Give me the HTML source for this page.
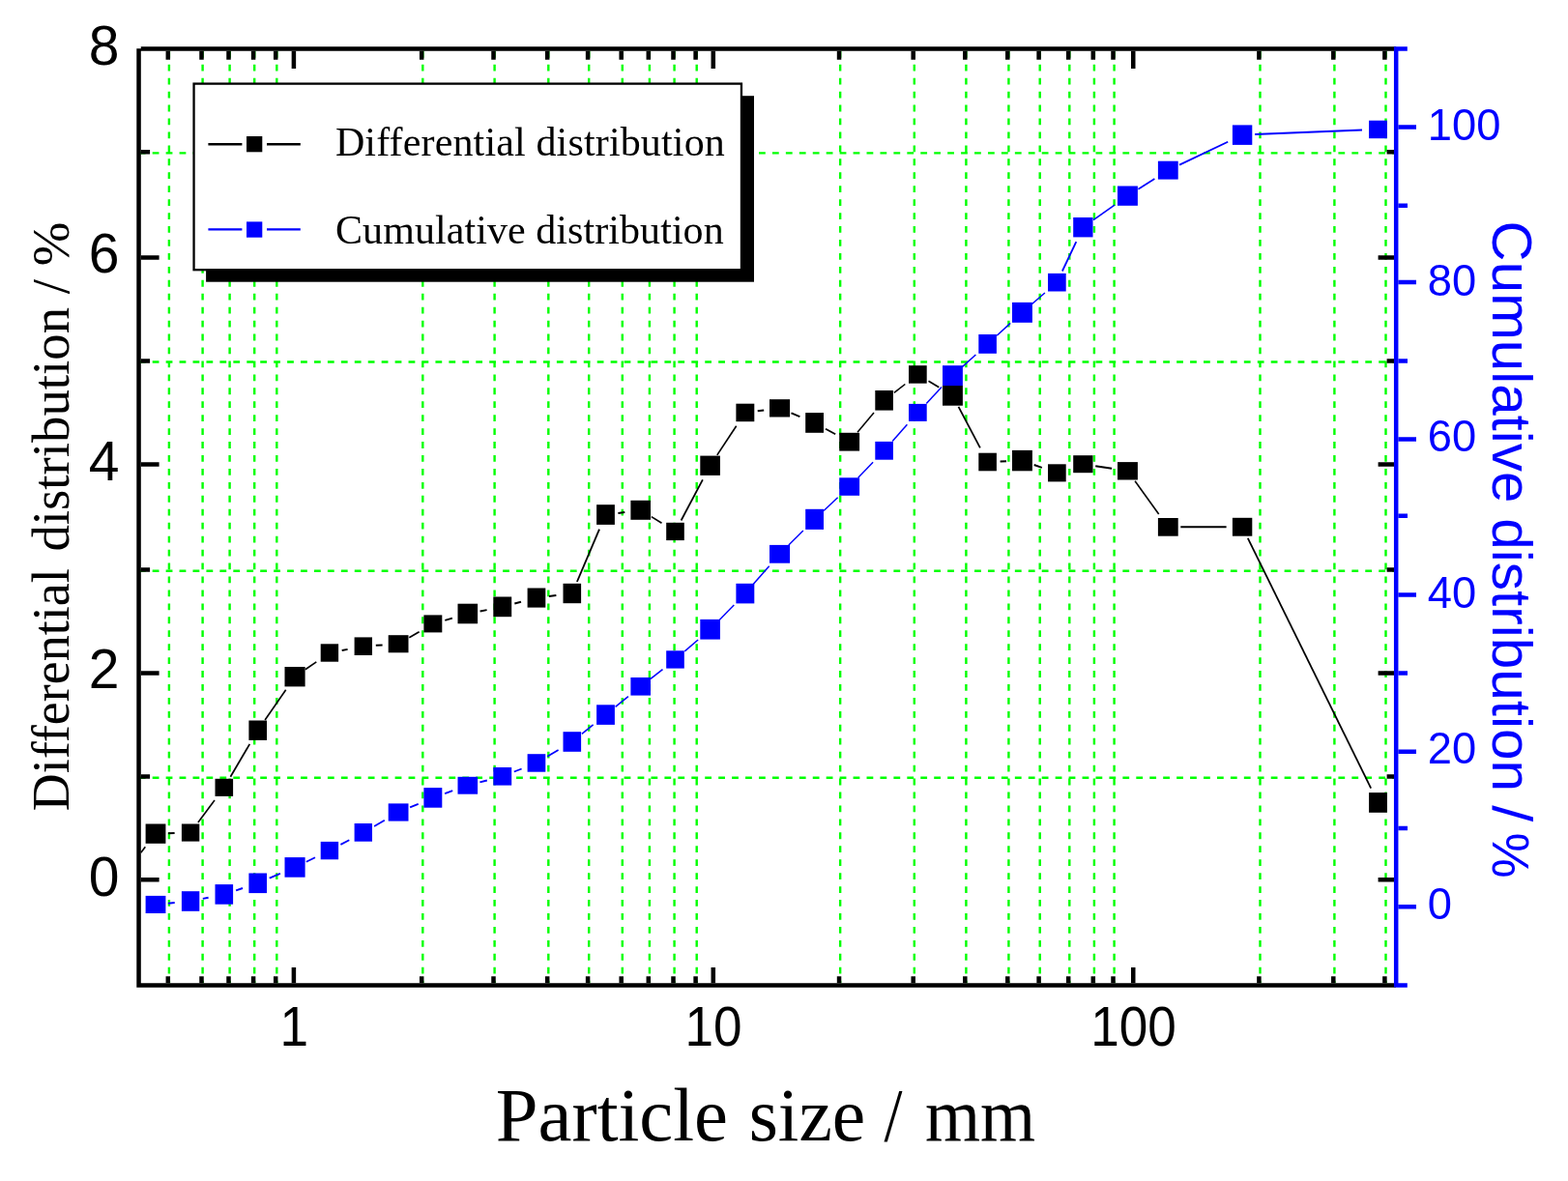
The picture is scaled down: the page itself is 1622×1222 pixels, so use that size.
<!DOCTYPE html>
<html><head><meta charset="utf-8"><title>Particle size distribution</title>
<style>html,body{margin:0;padding:0;background:#fff;width:1622px;height:1222px;overflow:hidden}</style>
</head><body>
<svg width="1622" height="1222" viewBox="0 0 1622 1222" style="position:absolute;left:0;top:0">
<rect width="1622" height="1222" fill="#fff"/>
<path d="M174.90 52.85V1017.2 M209.60 52.85V1017.2 M237.60 52.85V1017.2 M263.20 52.85V1017.2 M286.30 52.85V1017.2 M437.30 52.85V1017.2 M511.60 52.85V1017.2 M567.30 52.85V1017.2 M609.20 52.85V1017.2 M643.80 52.85V1017.2 M671.90 52.85V1017.2 M697.60 52.85V1017.2 M720.70 52.85V1017.2 M869.15 52.85V1017.2 M945.80 52.85V1017.2 M999.40 52.85V1017.2 M1043.40 52.85V1017.2 M1075.70 52.85V1017.2 M1106.30 52.85V1017.2 M1131.90 52.85V1017.2 M1152.60 52.85V1017.2 M1303.50 52.85V1017.2 M1380.40 52.85V1017.2 M1433.50 52.85V1017.2 M143.75 804.75H1442 M143.75 590.75H1442 M143.75 374.55H1442 M143.75 158.35H1442" stroke="#00ff00" stroke-width="2.4" stroke-dasharray="6.8 7.14" fill="none"/>
<path d="M173.80 1017.20V1010.30 M173.80 52.65V61.80 M208.50 1017.20V1010.30 M208.50 52.65V61.80 M236.50 1017.20V1010.30 M236.50 52.65V61.80 M262.10 1017.20V1010.30 M262.10 52.65V61.80 M285.20 1017.20V1010.30 M285.20 52.65V61.80 M303.90 1017.20V1001.10 M303.90 52.65V71.00 M436.20 1017.20V1010.30 M436.20 52.65V61.80 M510.50 1017.20V1010.30 M510.50 52.65V61.80 M566.20 1017.20V1010.30 M566.20 52.65V61.80 M608.10 1017.20V1010.30 M608.10 52.65V61.80 M642.70 1017.20V1010.30 M642.70 52.65V61.80 M670.80 1017.20V1010.30 M670.80 52.65V61.80 M696.50 1017.20V1010.30 M696.50 52.65V61.80 M719.60 1017.20V1010.30 M719.60 52.65V61.80 M737.80 1017.20V1001.10 M737.80 52.65V71.00 M868.05 1017.20V1010.30 M868.05 52.65V61.80 M944.70 1017.20V1010.30 M944.70 52.65V61.80 M998.30 1017.20V1010.30 M998.30 52.65V61.80 M1042.30 1017.20V1010.30 M1042.30 52.65V61.80 M1074.60 1017.20V1010.30 M1074.60 52.65V61.80 M1105.20 1017.20V1010.30 M1105.20 52.65V61.80 M1130.80 1017.20V1010.30 M1130.80 52.65V61.80 M1151.50 1017.20V1010.30 M1151.50 52.65V61.80 M1172.25 1017.20V1001.10 M1172.25 52.65V71.00 M1302.40 1017.20V1010.30 M1302.40 52.65V61.80 M1379.30 1017.20V1010.30 M1379.30 52.65V61.80 M1432.40 1017.20V1010.30 M1432.40 52.65V61.80 M145.75 910.30H164.60 M1442.00 910.30H1425.60 M145.75 803.60H155.10 M1442.00 803.60H1434.60 M145.75 696.60H164.60 M1442.00 696.60H1425.60 M145.75 589.60H155.10 M1442.00 589.60H1434.60 M145.75 480.45H164.60 M1442.00 480.45H1425.60 M145.75 373.40H155.10 M1442.00 373.40H1434.60 M145.75 266.40H164.60 M1442.00 266.40H1425.60 M145.75 157.20H155.10 M1442.00 157.20H1434.60" stroke="#000" stroke-width="4.5" fill="none"/>
<path d="M1446.40 938.20H1465.00 M1446.40 857.00H1456.00 M1446.40 777.75H1465.00 M1446.40 696.60H1456.00 M1446.40 615.40H1465.00 M1446.40 533.80H1456.00 M1446.40 454.60H1465.00 M1446.40 373.50H1456.00 M1446.40 292.00H1465.00 M1446.40 212.70H1456.00 M1446.40 131.60H1465.00" stroke="#0000ff" stroke-width="4.5" fill="none"/>
<path d="M143.55 50.3V1021.60M141.30 1019.40H1444.20M145.75 50.45H1444.20" stroke="#000" stroke-width="4.5" fill="none"/>
<path d="M1444.20 48.15V1021.60M1444.20 50.45H1455.8M1444.20 1019.40H1455.8" stroke="#0000ff" stroke-width="4.5" fill="none"/>
<path d="M145.8 882.3L150.3 876.2" stroke="#000" stroke-width="1.6" fill="none"/><path d="M174.0 862.3L180.6 862.1" stroke="#000" stroke-width="2.00" fill="none"/><path d="M204.9 851.1L222.0 828.1" stroke="#000" stroke-width="1.61" fill="none"/><path d="M238.4 803.7L258.3 769.9" stroke="#000" stroke-width="1.72" fill="none"/><path d="M274.1 745.0L295.7 713.8" stroke="#000" stroke-width="1.65" fill="none"/><path d="M315.8 692.8L327.3 684.9" stroke="#000" stroke-width="1.65" fill="none"/><path d="M353.7 673.0L359.6 671.9" stroke="#000" stroke-width="1.96" fill="none"/><path d="M388.8 667.8L395.6 667.4" stroke="#000" stroke-width="2.00" fill="none"/><path d="M423.3 659.7L433.6 653.7" stroke="#000" stroke-width="1.73" fill="none"/><path d="M460.3 641.8L467.9 639.6" stroke="#000" stroke-width="1.92" fill="none"/><path d="M496.6 632.5L503.6 631.1" stroke="#000" stroke-width="1.96" fill="none"/><path d="M532.3 624.5L539.0 622.8" stroke="#000" stroke-width="1.93" fill="none"/><path d="M567.9 617.0L575.4 616.0" stroke="#000" stroke-width="1.98" fill="none"/><path d="M596.9 602.0L620.0 547.7" stroke="#000" stroke-width="1.84" fill="none"/><path d="M639.4 530.9L646.3 529.9" stroke="#000" stroke-width="1.98" fill="none"/><path d="M673.8 534.6L684.5 541.3" stroke="#000" stroke-width="1.70" fill="none"/><path d="M704.6 538.5L726.9 496.3" stroke="#000" stroke-width="1.77" fill="none"/><path d="M741.8 470.9L761.7 440.7" stroke="#000" stroke-width="1.67" fill="none"/><path d="M783.7 425.3L790.2 424.5" stroke="#000" stroke-width="1.98" fill="none"/><path d="M818.5 427.4L827.4 431.1" stroke="#000" stroke-width="1.84" fill="none"/><path d="M854.0 443.7L864.2 449.3" stroke="#000" stroke-width="1.75" fill="none"/><path d="M887.0 447.2L904.0 426.9" stroke="#000" stroke-width="1.53" fill="none"/><path d="M924.9 406.4L936.3 397.5" stroke="#000" stroke-width="1.58" fill="none"/><path d="M960.5 394.2L971.3 400.7" stroke="#000" stroke-width="1.71" fill="none"/><path d="M991.5 420.8L1013.9 463.4" stroke="#000" stroke-width="1.77" fill="none"/><path d="M1034.6 477.5L1041.0 477.2" stroke="#000" stroke-width="2.00" fill="none"/><path d="M1069.7 481.0L1077.8 483.8" stroke="#000" stroke-width="1.88" fill="none"/><path d="M1133.2 482.2L1150.1 484.8" stroke="#000" stroke-width="1.98" fill="none"/><path d="M1174.1 497.8L1198.7 532.0" stroke="#000" stroke-width="1.62" fill="none"/><path d="M1221.3 545.3L1268.6 545.3" stroke="#000" stroke-width="2.00" fill="none"/><path d="M1290.8 556.9L1418.2 815.6" stroke="#000" stroke-width="1.79" fill="none"/>
<rect x="150.6" y="852.5" width="20.8" height="20.3" fill="#000"/><rect x="187.9" y="852.5" width="18.4" height="18.1" fill="#000"/><rect x="222.5" y="805.8" width="18.6" height="18.1" fill="#000"/><rect x="257.4" y="745.5" width="18.6" height="20.4" fill="#000"/><rect x="294.5" y="690.0" width="21.1" height="20.4" fill="#000"/><rect x="331.7" y="666.3" width="18.4" height="18.4" fill="#000"/><rect x="366.6" y="659.4" width="18.4" height="18.6" fill="#000"/><rect x="401.7" y="657.2" width="20.8" height="18.1" fill="#000"/><rect x="438.4" y="636.4" width="18.9" height="18.0" fill="#000"/><rect x="473.5" y="624.7" width="20.6" height="20.6" fill="#000"/><rect x="510.3" y="617.5" width="18.9" height="20.7" fill="#000"/><rect x="545.6" y="608.5" width="18.7" height="20.1" fill="#000"/><rect x="582.5" y="603.8" width="18.6" height="20.4" fill="#000"/><rect x="617.1" y="522.2" width="18.8" height="20.7" fill="#000"/><rect x="652.4" y="517.8" width="20.6" height="20.0" fill="#000"/><rect x="689.2" y="540.8" width="18.6" height="18.3" fill="#000"/><rect x="724.3" y="471.6" width="20.6" height="20.3" fill="#000"/><rect x="761.4" y="417.7" width="18.9" height="18.5" fill="#000"/><rect x="796.0" y="413.2" width="21.1" height="18.3" fill="#000"/><rect x="833.2" y="427.1" width="18.8" height="20.7" fill="#000"/><rect x="868.2" y="447.8" width="20.9" height="18.8" fill="#000"/><rect x="905.3" y="404.0" width="18.6" height="20.6" fill="#000"/><rect x="940.0" y="378.2" width="18.7" height="18.5" fill="#000"/><rect x="975.0" y="398.8" width="20.9" height="20.9" fill="#000"/><rect x="1012.3" y="468.7" width="18.6" height="18.6" fill="#000"/><rect x="1047.0" y="465.9" width="20.9" height="21.4" fill="#000"/><rect x="1084.0" y="480.3" width="18.7" height="18.1" fill="#000"/><rect x="1110.2" y="471.2" width="20.3" height="18.0" fill="#000"/><rect x="1156.0" y="478.1" width="20.9" height="18.4" fill="#000"/><rect x="1197.9" y="536.0" width="20.8" height="18.7" fill="#000"/><rect x="1274.9" y="535.8" width="20.4" height="18.9" fill="#000"/><rect x="1416.1" y="820.1" width="18.8" height="20.7" fill="#000"/>
<path d="M173.9 934.7L180.7 934.1" stroke="#0000ff" stroke-width="1.99" fill="none"/><path d="M209.8 929.9L215.6 928.7" stroke="#0000ff" stroke-width="1.96" fill="none"/><path d="M244.1 921.3L251.0 919.0" stroke="#0000ff" stroke-width="1.90" fill="none"/><path d="M278.7 908.7L289.9 903.9" stroke="#0000ff" stroke-width="1.84" fill="none"/><path d="M316.8 891.8L326.0 887.3" stroke="#0000ff" stroke-width="1.80" fill="none"/><path d="M352.4 873.9L361.3 869.2" stroke="#0000ff" stroke-width="1.76" fill="none"/><path d="M387.1 854.9L397.8 848.7" stroke="#0000ff" stroke-width="1.73" fill="none"/><path d="M424.1 835.4L432.7 831.8" stroke="#0000ff" stroke-width="1.84" fill="none"/><path d="M460.1 821.1L468.2 818.2" stroke="#0000ff" stroke-width="1.89" fill="none"/><path d="M496.4 809.4L503.8 807.5" stroke="#0000ff" stroke-width="1.93" fill="none"/><path d="M531.8 798.5L539.6 795.5" stroke="#0000ff" stroke-width="1.86" fill="none"/><path d="M566.1 782.8L577.6 775.9" stroke="#0000ff" stroke-width="1.72" fill="none"/><path d="M601.9 759.4L613.6 749.9" stroke="#0000ff" stroke-width="1.56" fill="none"/><path d="M636.6 731.4L649.9 720.7" stroke="#0000ff" stroke-width="1.55" fill="none"/><path d="M673.0 702.3L685.5 692.6" stroke="#0000ff" stroke-width="1.58" fill="none"/><path d="M708.3 673.9L722.1 662.0" stroke="#0000ff" stroke-width="1.51" fill="none"/><path d="M743.7 641.9L759.3 625.9" stroke="#0000ff" stroke-width="1.43" fill="none"/><path d="M779.4 604.3L795.7 585.7" stroke="#0000ff" stroke-width="1.51" fill="none"/><path d="M815.8 564.1L830.9 549.0" stroke="#0000ff" stroke-width="1.42" fill="none"/><path d="M852.1 528.5L866.6 514.8" stroke="#0000ff" stroke-width="1.46" fill="none"/><path d="M887.7 494.2L903.1 478.2" stroke="#0000ff" stroke-width="1.44" fill="none"/><path d="M923.2 456.6L938.4 439.3" stroke="#0000ff" stroke-width="1.50" fill="none"/><path d="M958.3 417.4L974.1 400.6" stroke="#0000ff" stroke-width="1.45" fill="none"/><path d="M995.1 379.9L1009.4 367.0" stroke="#0000ff" stroke-width="1.48" fill="none"/><path d="M1031.2 347.2L1045.2 334.4" stroke="#0000ff" stroke-width="1.48" fill="none"/><path d="M1067.3 314.8L1080.9 303.0" stroke="#0000ff" stroke-width="1.51" fill="none"/><path d="M1098.9 280.5L1113.3 250.1" stroke="#0000ff" stroke-width="1.81" fill="none"/><path d="M1131.0 227.7L1153.0 212.2" stroke="#0000ff" stroke-width="1.63" fill="none"/><path d="M1177.4 195.7L1194.4 185.0" stroke="#0000ff" stroke-width="1.69" fill="none"/><path d="M1220.0 170.6L1270.2 146.7" stroke="#0000ff" stroke-width="1.81" fill="none"/><path d="M1298.1 139.1L1409.0 134.6" stroke="#0000ff" stroke-width="2.00" fill="none"/>
<rect x="150.6" y="926.9" width="20.8" height="18.1" fill="#0000ff"/><rect x="187.9" y="922.2" width="18.4" height="20.6" fill="#0000ff"/><rect x="222.5" y="915.1" width="18.6" height="20.6" fill="#0000ff"/><rect x="257.4" y="903.5" width="18.6" height="20.6" fill="#0000ff"/><rect x="294.5" y="887.1" width="21.1" height="20.6" fill="#0000ff"/><rect x="331.7" y="870.9" width="18.4" height="18.4" fill="#0000ff"/><rect x="366.6" y="852.0" width="18.4" height="18.7" fill="#0000ff"/><rect x="401.7" y="831.4" width="20.8" height="18.2" fill="#0000ff"/><rect x="438.4" y="815.1" width="18.9" height="20.6" fill="#0000ff"/><rect x="473.5" y="803.8" width="20.6" height="17.9" fill="#0000ff"/><rect x="510.3" y="794.0" width="18.9" height="18.6" fill="#0000ff"/><rect x="545.6" y="780.2" width="18.7" height="18.5" fill="#0000ff"/><rect x="582.5" y="757.2" width="18.6" height="20.6" fill="#0000ff"/><rect x="617.1" y="729.3" width="18.8" height="20.6" fill="#0000ff"/><rect x="652.4" y="701.0" width="20.6" height="18.6" fill="#0000ff"/><rect x="689.2" y="673.3" width="18.6" height="18.3" fill="#0000ff"/><rect x="724.3" y="640.9" width="20.6" height="20.7" fill="#0000ff"/><rect x="761.4" y="603.8" width="18.9" height="20.6" fill="#0000ff"/><rect x="796.0" y="563.9" width="21.1" height="18.8" fill="#0000ff"/><rect x="833.2" y="526.8" width="18.8" height="21.1" fill="#0000ff"/><rect x="868.2" y="494.3" width="20.9" height="18.5" fill="#0000ff"/><rect x="905.3" y="456.9" width="18.6" height="18.8" fill="#0000ff"/><rect x="940.0" y="417.9" width="18.7" height="18.0" fill="#0000ff"/><rect x="975.0" y="378.2" width="20.9" height="20.9" fill="#0000ff"/><rect x="1012.3" y="346.0" width="18.6" height="19.8" fill="#0000ff"/><rect x="1047.0" y="312.9" width="20.9" height="20.9" fill="#0000ff"/><rect x="1084.0" y="282.9" width="18.7" height="18.6" fill="#0000ff"/><rect x="1110.2" y="225.0" width="20.3" height="20.4" fill="#0000ff"/><rect x="1156.0" y="192.5" width="20.9" height="20.3" fill="#0000ff"/><rect x="1197.9" y="166.7" width="20.8" height="18.9" fill="#0000ff"/><rect x="1274.9" y="129.4" width="20.4" height="20.5" fill="#0000ff"/><rect x="1416.1" y="124.7" width="18.8" height="18.5" fill="#0000ff"/>
<rect x="213.1" y="99.2" width="566.9" height="192.5" fill="#000"/>
<rect x="200.55" y="86.6" width="566.4" height="192.6" fill="#fff" stroke="#000" stroke-width="2.3"/>
<path d="M215.4 149.2H250.4M276 149.2H310.8" stroke="#000" stroke-width="2.4"/>
<rect x="255" y="141" width="16.3" height="16.3" fill="#000"/>
<path d="M215.4 237.4H250.4M276 237.4H310.8" stroke="#0000ff" stroke-width="2.4"/>
<rect x="255" y="229.4" width="16.3" height="16.3" fill="#0000ff"/>
<text x="346.9" y="161.4" style="font-family:'Liberation Serif','Times New Roman',serif;font-size:42px;letter-spacing:0.15px" fill="#000">Differential distribution</text>
<text x="347" y="252.2" style="font-family:'Liberation Serif','Times New Roman',serif;font-size:42px;letter-spacing:0.07px" fill="#000">Cumulative distribution</text>
<text x="123.4" y="926.8" text-anchor="end" style="font-family:'Liberation Sans',Arial,sans-serif;font-size:57px" fill="#000">0</text>
<text x="123.4" y="711.8" text-anchor="end" style="font-family:'Liberation Sans',Arial,sans-serif;font-size:57px" fill="#000">2</text>
<text x="123.4" y="496.8" text-anchor="end" style="font-family:'Liberation Sans',Arial,sans-serif;font-size:57px" fill="#000">4</text>
<text x="123.4" y="281.8" text-anchor="end" style="font-family:'Liberation Sans',Arial,sans-serif;font-size:57px" fill="#000">6</text>
<text x="123.4" y="66.8" text-anchor="end" style="font-family:'Liberation Sans',Arial,sans-serif;font-size:57px" fill="#000">8</text>
<text transform="translate(304.2,1082.2) scale(0.94,1)" text-anchor="middle" style="font-family:'Liberation Sans',Arial,sans-serif;font-size:56.5px" fill="#000">1</text>
<text transform="translate(738.1,1082.2) scale(0.94,1)" text-anchor="middle" style="font-family:'Liberation Sans',Arial,sans-serif;font-size:56.5px" fill="#000">10</text>
<text transform="translate(1172.5,1082.2) scale(0.94,1)" text-anchor="middle" style="font-family:'Liberation Sans',Arial,sans-serif;font-size:56.5px" fill="#000">100</text>
<text transform="translate(1476.8,951.2) scale(0.975,1)" style="font-family:'Liberation Sans',Arial,sans-serif;font-size:46.5px" fill="#0000ff">0</text>
<text transform="translate(1476.8,790.0) scale(0.975,1)" style="font-family:'Liberation Sans',Arial,sans-serif;font-size:46.5px" fill="#0000ff">20</text>
<text transform="translate(1476.8,628.7) scale(0.975,1)" style="font-family:'Liberation Sans',Arial,sans-serif;font-size:46.5px" fill="#0000ff">40</text>
<text transform="translate(1476.8,467.4) scale(0.975,1)" style="font-family:'Liberation Sans',Arial,sans-serif;font-size:46.5px" fill="#0000ff">60</text>
<text transform="translate(1476.8,306.1) scale(0.975,1)" style="font-family:'Liberation Sans',Arial,sans-serif;font-size:46.5px" fill="#0000ff">80</text>
<text transform="translate(1476.8,144.8) scale(0.975,1)" style="font-family:'Liberation Sans',Arial,sans-serif;font-size:46.5px" fill="#0000ff">100</text>
<text transform="translate(512.8,1180) scale(1.015,1)" style="font-family:'Liberation Serif','Times New Roman',serif;font-size:77.5px" fill="#000">Particle</text>
<text transform="translate(774.7,1180) scale(1.0,1)" style="font-family:'Liberation Serif','Times New Roman',serif;font-size:77.5px" fill="#000">size</text>
<text transform="translate(914.5,1180) scale(0.88,1)" style="font-family:'Liberation Serif','Times New Roman',serif;font-size:77.5px" fill="#000">/</text>
<text transform="translate(957.0,1180) scale(0.947,1)" style="font-family:'Liberation Serif','Times New Roman',serif;font-size:77.5px" fill="#000">mm</text>
<text transform="translate(71,839.2) rotate(-90) scale(0.986,1)" style="font-family:'Liberation Serif','Times New Roman',serif;font-size:54.8px" fill="#000">Differential</text>
<text transform="translate(71,570.6) rotate(-90)" style="font-family:'Liberation Serif','Times New Roman',serif;font-size:54.8px" fill="#000">distribution / %</text>
<text transform="translate(1544,228.6) rotate(90) scale(1.0145,1)" style="font-family:'Liberation Sans',Arial,sans-serif;font-size:57.5px" fill="#0000ff">Cumulative</text>
<text transform="translate(1544,536.3) rotate(90) scale(1.017,1)" style="font-family:'Liberation Sans',Arial,sans-serif;font-size:57.5px" fill="#0000ff">distribution</text>
<text transform="translate(1544,833.3) rotate(90) scale(1.06,1)" style="font-family:'Liberation Sans',Arial,sans-serif;font-size:57.5px" fill="#0000ff">/</text>
<text transform="translate(1544,861.6) rotate(90) scale(1.0,1)" style="font-family:'Liberation Sans',Arial,sans-serif;font-size:53px" fill="#0000ff">%</text>
</svg>
</body></html>
